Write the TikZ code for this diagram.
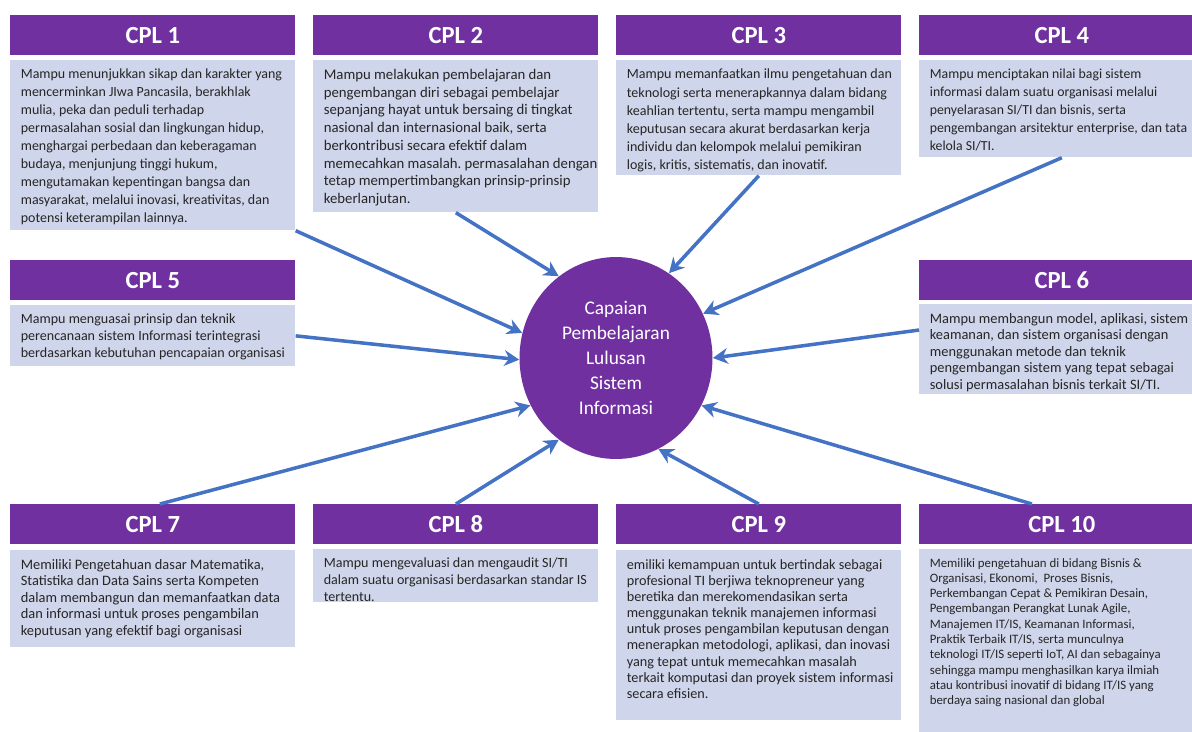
\documentclass[tikz,border=0pt]{standalone}
\usepackage{fontspec}
\setmainfont{Carlito}
\usepackage{tikz}
\usetikzlibrary{arrows.meta,shapes.geometric}

\definecolor{cplpurple}{HTML}{7030A0}
\definecolor{cplbody}{HTML}{CFD5EA}
\definecolor{cplblue}{HTML}{4472C4}
\definecolor{cpltext}{HTML}{262626}

\tikzset{
	head/.style={anchor=north west, fill=cplpurple, text=white, inner sep=0pt,
		minimum width=5.7cm, minimum height=0.8cm,
		font=\fontsize{14}{16}\selectfont\bfseries},
	body/.style={anchor=north west, fill=cplbody, inner sep=0pt,
		minimum width=5.7cm, minimum height=#1},
	desc/.style={anchor=north west, align=left, text=cpltext,
		inner xsep=0.21cm, inner ysep=5pt,
		font=\frenchspacing\fontsize{8.1}{10.2}\selectfont},
	hub/.style={ellipse, fill=cplpurple, text=white, inner sep=0pt,
		minimum width=3.86cm, minimum height=4.04cm, align=center,
		font=\fontsize{11}{14.3}\selectfont},
	link/.style={draw=cplblue, line width=2pt, -{Stealth[length=8.5pt,width=9pt]}}
}

\begin{document}
\begin{tikzpicture}[x=0.02cm, y=-0.02cm]
	\useasboundingbox (0,0) rectangle (1192,731);
	\clip (0,0) rectangle (1192,731);

	\node [head] (h1) at (10,15) {CPL 1};
	\node [body=3.4cm] (b1) at (10,60) {};
	\node [desc, font=\frenchspacing\fontsize{7.95}{10.2}\selectfont] (t1) at (b1.north west)
		{Mampu menunjukkan sikap dan karakter yang\\
		mencerminkan JIwa Pancasila, berakhlak\\
		mulia, peka dan peduli terhadap\\
		permasalahan sosial dan lingkungan hidup,\\
		menghargai perbedaan dan keberagaman\\
		budaya, menjunjung tinggi hukum,\\
		mengutamakan kepentingan bangsa dan\\
		masyarakat, melalui inovasi, kreativitas, dan\\
		potensi keterampilan lainnya.};

	\node [head] (h2) at (313,15) {CPL 2};
	\node [body=3.04cm] (b2) at (313,60) {};
	\node [desc, font=\frenchspacing\fontsize{8.4}{10.1}\selectfont] (t2) at (b2.north west)
		{Mampu melakukan pembelajaran dan\\
		pengembangan diri sebagai pembelajar\\
		sepanjang hayat untuk bersaing di tingkat\\
		nasional dan internasional baik, serta\\
		berkontribusi secara efektif dalam\\
		memecahkan masalah. permasalahan dengan\\
		tetap mempertimbangkan prinsip-prinsip\\
		keberlanjutan.};

	\node [head] (h3) at (616,15) {CPL 3};
	\node [body=2.3cm] (b3) at (616,60) {};
	\node [desc, font=\frenchspacing\fontsize{8}{10.3}\selectfont] (t3) at (b3.north west)
		{Mampu memanfaatkan ilmu pengetahuan dan\\
		teknologi serta menerapkannya dalam bidang\\
		keahlian tertentu, serta mampu mengambil\\
		keputusan secara akurat berdasarkan kerja\\
		individu dan kelompok melalui pemikiran\\
		logis, kritis, sistematis, dan inovatif.};

	\node [head] (h4) at (919,15) {CPL 4};
	\node [body=1.94cm] (b4) at (919,60) {};
	\node [desc, font=\frenchspacing\fontsize{7.85}{10.2}\selectfont] (t4) at (b4.north west)
		{Mampu menciptakan nilai bagi sistem\\
		informasi dalam suatu organisasi melalui\\
		penyelarasan SI/TI dan bisnis, serta\\
		pengembangan arsitektur enterprise, dan tata\\
		kelola SI/TI.};

	\node [head] (h5) at (10,260) {CPL 5};
	\node [body=1.22cm] (b5) at (10,305) {};
	\node [desc, font=\frenchspacing\fontsize{8}{9.45}\selectfont] (t5) at (b5.north west)
		{Mampu menguasai prinsip dan teknik\\
		perencanaan sistem Informasi terintegrasi\\
		berdasarkan kebutuhan pencapaian organisasi};

	\node [head] (h6) at (919,260) {CPL 6};
	\node [body=1.8cm] (b6) at (919,304) {};
	\node [desc, font=\frenchspacing\fontsize{8.2}{9.4}\selectfont] (t6) at (b6.north west)
		{Mampu membangun model, aplikasi, sistem\\
		keamanan, dan sistem organisasi dengan\\
		menggunakan metode dan teknik\\
		pengembangan sistem yang tepat sebagai\\
		solusi permasalahan bisnis terkait SI/TI.};

	\node [head] (h7) at (10,504) {CPL 7};
	\node [body=1.94cm] (b7) at (10,550) {};
	\node [desc, font=\frenchspacing\fontsize{8.2}{9.4}\selectfont] (t7) at (b7.north west)
		{Memiliki Pengetahuan dasar Matematika,\\
		Statistika dan Data Sains serta Kompeten\\
		dalam membangun dan memanfaatkan data\\
		dan informasi untuk proses pengambilan\\
		keputusan yang efektif bagi organisasi};

	\node [head] (h8) at (313,504) {CPL 8};
	\node [body=1.06cm] (b8) at (313,549) {};
	\node [desc, font=\frenchspacing\fontsize{8}{9.45}\selectfont] (t8) at (b8.north west)
		{Mampu mengevaluasi dan mengaudit SI/TI\\
		dalam suatu organisasi berdasarkan standar IS\\
		tertentu.};

	\node [head] (h9) at (616,504) {CPL 9};
	\node [body=3.4cm] (b9) at (616,550) {};
	\node [desc, font=\frenchspacing\fontsize{8.1}{9.2}\selectfont] (t9) at (b9.north west)
		{emiliki kemampuan untuk bertindak sebagai\\
		profesional TI berjiwa teknopreneur yang\\
		beretika dan merekomendasikan serta\\
		menggunakan teknik manajemen informasi\\
		untuk proses pengambilan keputusan dengan\\
		menerapkan metodologi, aplikasi, dan inovasi\\
		yang tepat untuk memecahkan masalah\\
		terkait komputasi dan proyek sistem informasi\\
		secara efisien.};

	\node [head] (h10) at (919,504) {CPL 10};
	\node [body=4cm] (b10) at (919,549) {};
	\node [desc, font=\frenchspacing\fontsize{7.3}{8.7}\selectfont] (t10) at (b10.north west)
		{Memiliki pengetahuan di bidang Bisnis \&\\
		Organisasi, Ekonomi,\ \ Proses Bisnis,\\
		Perkembangan Cepat \& Pemikiran Desain,\\
		Pengembangan Perangkat Lunak Agile,\\
		Manajemen IT/IS, Keamanan Informasi,\\
		Praktik Terbaik IT/IS, serta munculnya\\
		teknologi IT/IS seperti IoT, AI dan sebagainya\\
		sehingga mampu menghasilkan karya ilmiah\\
		atau kontribusi inovatif di bidang IT/IS yang\\
		berdaya saing nasional dan global};

	\node [hub] (cpl) at (616,358)
		{Capaian\\ Pembelajaran\\ Lulusan\\ Sistem\\ Informasi};

	\draw [link] (b1.south east) to (cpl.165);
	\draw [link] (b2.south) to (cpl.125);
	\draw [link] (b3.south) to (cpl.58);
	\draw [link] (b4.south) to (cpl.27);
	\draw [link] (b5.east) to (cpl.181);
	\draw [link] ([yshift=11pt]b6.west) to (cpl.0);
	\draw [link] ([xshift=4pt]h7.north) to (cpl.209);
	\draw [link] (h8.north) to (cpl.235);
	\draw [link] (h9.north) to (cpl.295);
	\draw [link] ([xshift=-17pt]h10.north) to (cpl.331);
\end{tikzpicture}
\end{document}
